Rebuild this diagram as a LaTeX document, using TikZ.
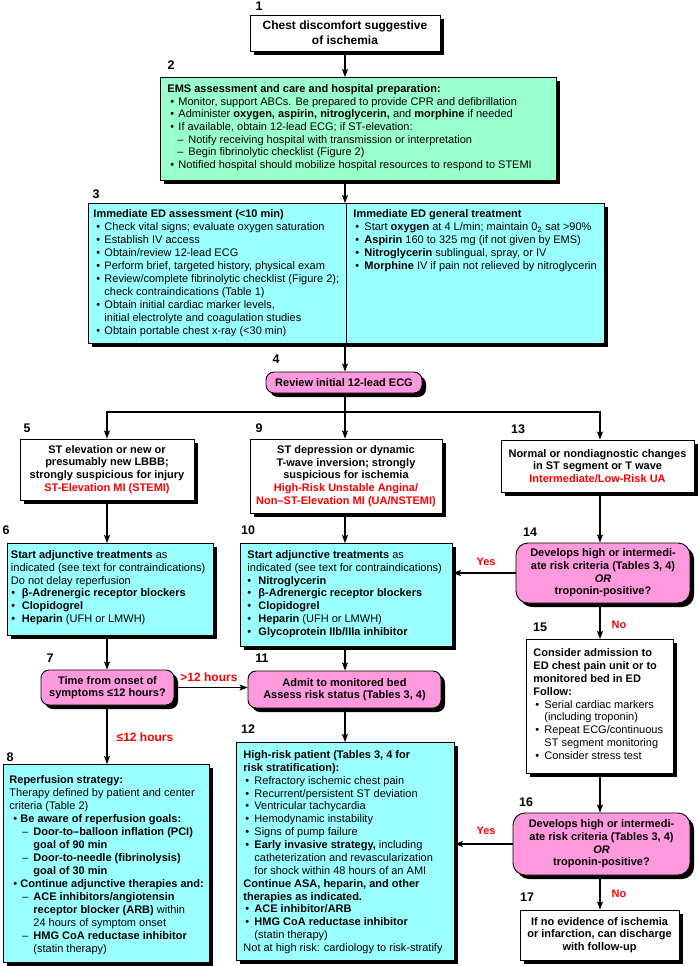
\documentclass[tikz,border=0pt]{standalone}
\usepackage{fontspec}
\setmainfont{Liberation Sans}
\usetikzlibrary{arrows.meta,shadows}
\definecolor{cyanc}{RGB}{153,255,255}
\definecolor{mintc}{RGB}{153,255,204}
\definecolor{pinkc}{RGB}{255,153,221}
\definecolor{redc}{RGB}{255,0,0}
% width, height, left margin, top pad, baselineskip, content
\newcommand\tb[6]{\parbox[t][#2][t]{#1}{\fontsize{11}{#5}\selectfont\raggedright\leftskip=#3\relax\vspace*{#4}#6}}
\newcommand\bu[1][2pt]{\makebox[11pt][l]{\hspace*{#1}•}}
\newcommand\ds[1][11pt]{\hspace*{#1}\makebox[11pt][l]{–}}
\newcommand\ci[1][11pt]{\hspace*{#1}}
\tikzset{
  every node/.style={font=\fontsize{11}{12.7}\selectfont},
  shad/.style={drop shadow={shadow xshift=4pt,shadow yshift=-4pt,fill=black,opacity=1}},
  boxbase/.style={draw=black,line width=0.9pt,shad,inner sep=0pt},
  wbox/.style={boxbase,fill=white},
  cbox/.style={boxbase,fill=cyanc},
  gbox/.style={boxbase,fill=mintc},
  pbox/.style={boxbase,fill=pinkc,rounded corners=8pt},
  ctext/.style={align=center,font=\bfseries\fontsize{11}{12.7}\selectfont},
  tl/.style={anchor=north west},
  num/.style={font=\bfseries\fontsize{12.5}{14}\selectfont,inner sep=0pt},
  redlab/.style={text=redc,font=\bfseries\fontsize{12}{14}\selectfont,inner sep=0pt},
  arr/.style={-{Stealth[length=8pt,width=6pt,inset=1.5pt]},line width=1.1pt},
}
\begin{document}
\begin{tikzpicture}[x=1pt,y=-1pt]
\path[use as bounding box,fill=white] (0,0) rectangle (700,966);
\coordinate (cL) at (107,0);
\coordinate (cM) at (345,0);
\coordinate (cR) at (600,0);
\coordinate (hub) at (345,412);

% ---- boxes
\node[wbox,ctext,minimum width=190pt,minimum height=36pt,font=\bfseries\fontsize{12}{15}\selectfont] (b1) at (345,33)
  {Chest discomfort suggestive\\of ischemia};

\node[gbox,tl] (b2) at (160,77) {\tb{396pt}{103pt}{7pt}{7pt}{12.7pt}{%
\textbf{EMS assessment and care and hospital preparation:}\\
\bu[3pt]Monitor, support ABCs. Be prepared to provide CPR and defibrillation\\
\bu[3pt]Administer \textbf{oxygen, aspirin, nitroglycerin,} and \textbf{morphine} if needed\\
\bu[3pt]If available, obtain 12-lead ECG; if ST-elevation:\\
\ds[10pt]Notify receiving hospital with transmission or interpretation\\
\ds[10pt]Begin fibrinolytic checklist (Figure 2)\\
\bu[3pt]Notified hospital should mobilize hospital resources to respond to STEMI}};

\node[cbox,tl] (b3) at (88,203) {\tb{258pt}{140pt}{5pt}{6pt}{13pt}{%
\textbf{Immediate ED assessment (<10 min)}\\
\bu[3pt]Check vital signs; evaluate oxygen saturation\\
\bu[3pt]Establish IV access\\
\bu[3pt]Obtain/review 12-lead ECG\\
\bu[3pt]Perform brief, targeted history, physical exam\\
\bu[3pt]Review/complete fibrinolytic checklist (Figure 2);\\
\ci check contraindications (Table 1)\\
\bu[3pt]Obtain initial cardiac marker levels,\\
\ci initial electrolyte and coagulation studies\\
\bu[3pt]Obtain portable chest x-ray (<30 min)}%
\tb{258pt}{140pt}{7pt}{6pt}{13pt}{%
\textbf{Immediate ED general treatment}\\
\bu[2pt]Start \textbf{oxygen} at 4 L/min; maintain 0\textsubscript{2} sat >90\%\\
\bu[2pt]\textbf{Aspirin} 160 to 325 mg (if not given by EMS)\\
\bu[2pt]\textbf{Nitroglycerin} sublingual, spray, or IV\\
\bu[2pt]\textbf{Morphine} IV if pain not relieved by nitroglycerin}};

\node[pbox,ctext,minimum width=156pt,minimum height=21pt] (b4) at (344,382.5) {Review initial 12-lead ECG};

\node[wbox,ctext,minimum width=174pt,minimum height=61pt] (b5) at (107,469.5)
  {ST elevation or new or\\presumably new LBBB;\\strongly suspicious for injury\\\textcolor{redc}{ST-Elevation MI (STEMI)}};

\node[wbox,ctext,minimum width=192pt,minimum height=74pt] (b9) at (346,476)
  {ST depression or dynamic\\T-wave inversion; strongly\\suspicious for ischemia\\\textcolor{redc}{High-Risk Unstable Angina/}\\\textcolor{redc}{Non–ST-Elevation MI (UA/NSTEMI)}};

\node[wbox,ctext,minimum width=193pt,minimum height=52pt] (b13) at (597.5,466)
  {Normal or nondiagnostic changes\\in ST segment or T wave\\\textcolor{redc}{Intermediate/Low-Risk UA}};

\node[cbox,tl] (b6) at (7,543) {\tb{206pt}{92pt}{3.5pt}{7pt}{12.8pt}{%
\textbf{Start adjunctive treatments} as\\
indicated (see text for contraindications)\\
Do not delay reperfusion\\
\bu[0.5pt]\textbf{β-Adrenergic receptor blockers}\\
\bu[0.5pt]\textbf{Clopidogrel}\\
\bu[0.5pt]\textbf{Heparin} (UFH or LMWH)}};

\node[cbox,tl] (b10) at (240,543) {\tb{212pt}{103pt}{7pt}{7pt}{12.8pt}{%
\textbf{Start adjunctive treatments} as\\
indicated (see text for contraindications)\\
\bu[0pt]\textbf{Nitroglycerin}\\
\bu[0pt]\textbf{β-Adrenergic receptor blockers}\\
\bu[0pt]\textbf{Clopidogrel}\\
\bu[0pt]\textbf{Heparin} (UFH or LMWH)\\
\bu[0pt]\textbf{Glycoprotein IIb/IIIa inhibitor}}};

\node[pbox,ctext,minimum width=133pt,minimum height=35pt] (b7) at (107.5,687.5)
  {Time from onset of\\symptoms ≤12 hours?};

\node[pbox,ctext,minimum width=193pt,minimum height=37pt] (b11) at (344.5,689.5)
  {Admit to monitored bed\\Assess risk status (Tables 3, 4)};

\node[cbox,tl] (b8) at (3,764) {\tb{206pt}{198pt}{6pt}{11pt}{13pt}{%
\textbf{Reperfusion strategy:}\\
Therapy defined by patient and center\\
criteria (Table 2)\\
\bu[4pt]\textbf{Be aware of reperfusion goals:}\\
\ds[13pt]\textbf{Door-to–balloon inflation (PCI)}\\
\ci[24pt]\textbf{goal of 90 min}\\
\ds[13pt]\textbf{Door-to-needle (fibrinolysis)}\\
\ci[24pt]\textbf{goal of 30 min}\\
\bu[4pt]\textbf{Continue adjunctive therapies and:}\\
\ds[13pt]\textbf{ACE inhibitors/angiotensin}\\
\ci[24pt]\textbf{receptor blocker (ARB)} within\\
\ci[24pt]24 hours of symptom onset\\
\ds[13pt]\textbf{HMG CoA reductase inhibitor}\\
\ci[24pt](statin therapy)}};

\node[cbox,tl] (b12) at (236,742) {\tb{218pt}{218pt}{7pt}{8pt}{12.87pt}{%
\textbf{High-risk patient (Tables 3, 4 for}\\
\textbf{risk stratification):}\\
\bu[2pt]Refractory ischemic chest pain\\
\bu[2pt]Recurrent/persistent ST deviation\\
\bu[2pt]Ventricular tachycardia\\
\bu[2pt]Hemodynamic instability\\
\bu[2pt]Signs of pump failure\\
\bu[2pt]\textbf{Early invasive strategy,} including\\
\ci catheterization and revascularization\\
\ci for shock within 48 hours of an AMI\\
\textbf{Continue ASA, heparin, and other}\\
\textbf{therapies as indicated.}\\
\bu[2pt]\textbf{ACE inhibitor/ARB}\\
\bu[2pt]\textbf{HMG CoA reductase inhibitor}\\
\ci (statin therapy)\\
Not at high risk: cardiology to risk-stratify}};

\node[pbox,ctext,rounded corners=12pt,minimum width=174pt,minimum height=60pt] (b14) at (603,573)
  {Develops high or intermedi-\\ate risk criteria (Tables 3, 4)\\\textit{OR}\\troponin-positive?};

\node[wbox,tl] (b15) at (526,639) {\tb{147pt}{134pt}{7pt}{9pt}{12.9pt}{%
\textbf{Consider admission to}\\
\textbf{ED chest pain unit or to}\\
\textbf{monitored bed in ED}\\
\textbf{Follow:}\\
\bu[2pt]Serial cardiac markers\\
\ci (including troponin)\\
\bu[2pt]Repeat ECG/continuous\\
\ci ST segment monitoring\\
\bu[2pt]Consider stress test}};

\node[pbox,ctext,rounded corners=12pt,minimum width=177pt,minimum height=62pt] (b16) at (601.5,844)
  {Develops high or intermedi-\\ate risk criteria (Tables 3, 4)\\\textit{OR}\\troponin-positive?};

\node[wbox,ctext,minimum width=159pt,minimum height=50pt] (b17) at (599.5,935)
  {If no evidence of ischemia\\or infarction, can discharge\\with follow-up};

% divider of box 3
\draw[line width=0.9pt] (b3.north) -- (b3.south);

% ---- numbers
\node[num] (n1) at (259,6) {1};
\node[num] (n2) at (171,65) {2};
\node[num] (n3) at (96,194) {3};
\node[num] (n4) at (276,359) {4};
\node[num] (n5) at (27,428) {5};
\node[num] (n9) at (259,428) {9};
\node[num] (n13) at (518,429) {13};
\node[num] (n6) at (6,530) {6};
\node[num] (n10) at (248,530) {10};
\node[num] (n14) at (530,532) {14};
\node[num] (n15) at (540,627) {15};
\node[num] (n7) at (50,658) {7};
\node[num] (n11) at (262,658) {11};
\node[num] (n12) at (248,729) {12};
\node[num] (n8) at (10,757) {8};
\node[num] (n16) at (526,802) {16};
\node[num] (n17) at (527,897) {17};

% ---- red labels
\node[redlab] (lgt) at (209,677) {>12 hours};
\node[redlab] (lle) at (145,737) {≤12 hours};
\node[redlab,font=\bfseries\fontsize{11}{13}\selectfont] (ly1) at (486,562) {Yes};
\node[redlab,font=\bfseries\fontsize{11}{13}\selectfont] (ln1) at (619,625) {No};
\node[redlab,font=\bfseries\fontsize{11}{13}\selectfont] (ly2) at (486,831) {Yes};
\node[redlab,font=\bfseries\fontsize{11}{13}\selectfont] (ln2) at (619,894) {No};

% ---- connectors
\draw[arr] (b1.south -| cM) -- (b2.north -| cM);
\draw[arr] (b2.south -| cM) -- (b3.north -| cM);
\draw[arr] (b3.south -| cM) -- (b4.north -| cM);
\draw[arr] (b4.south -| cM) -- (b9.north -| cM);
\draw[arr] (hub) -| (b5.north -| cL);
\draw[arr] (hub) -| (b13.north -| cR);
\draw[arr] (b5.south -| cL) -- (b6.north -| cL);
\draw[arr] (b6.south -| cL) -- (b7.north -| cL);
\draw[arr] (b7.south -| cL) -- (b8.north -| cL);
\draw[arr] (b9.south -| cM) -- (b10.north -| cM);
\draw[arr] (b10.south -| cM) -- (b11.north -| cM);
\draw[arr] (b11.south -| cM) -- (b12.north -| cM);
\draw[arr] (b7.east) -- (b7.east -| b11.west);
\draw[arr] (b13.south -| cR) -- (b14.north -| cR);
\draw[arr] (b14.west) -- (b14.west -| b10.east);
\draw[arr] (b14.south -| cR) -- (b15.north -| cR);
\draw[arr] (b15.south -| cR) -- (b16.north -| cR);
\draw[arr] (b16.west) -- (b16.west -| b12.east);
\draw[arr] (b16.south -| cR) -- (b17.north -| cR);
\end{tikzpicture}
\end{document}
